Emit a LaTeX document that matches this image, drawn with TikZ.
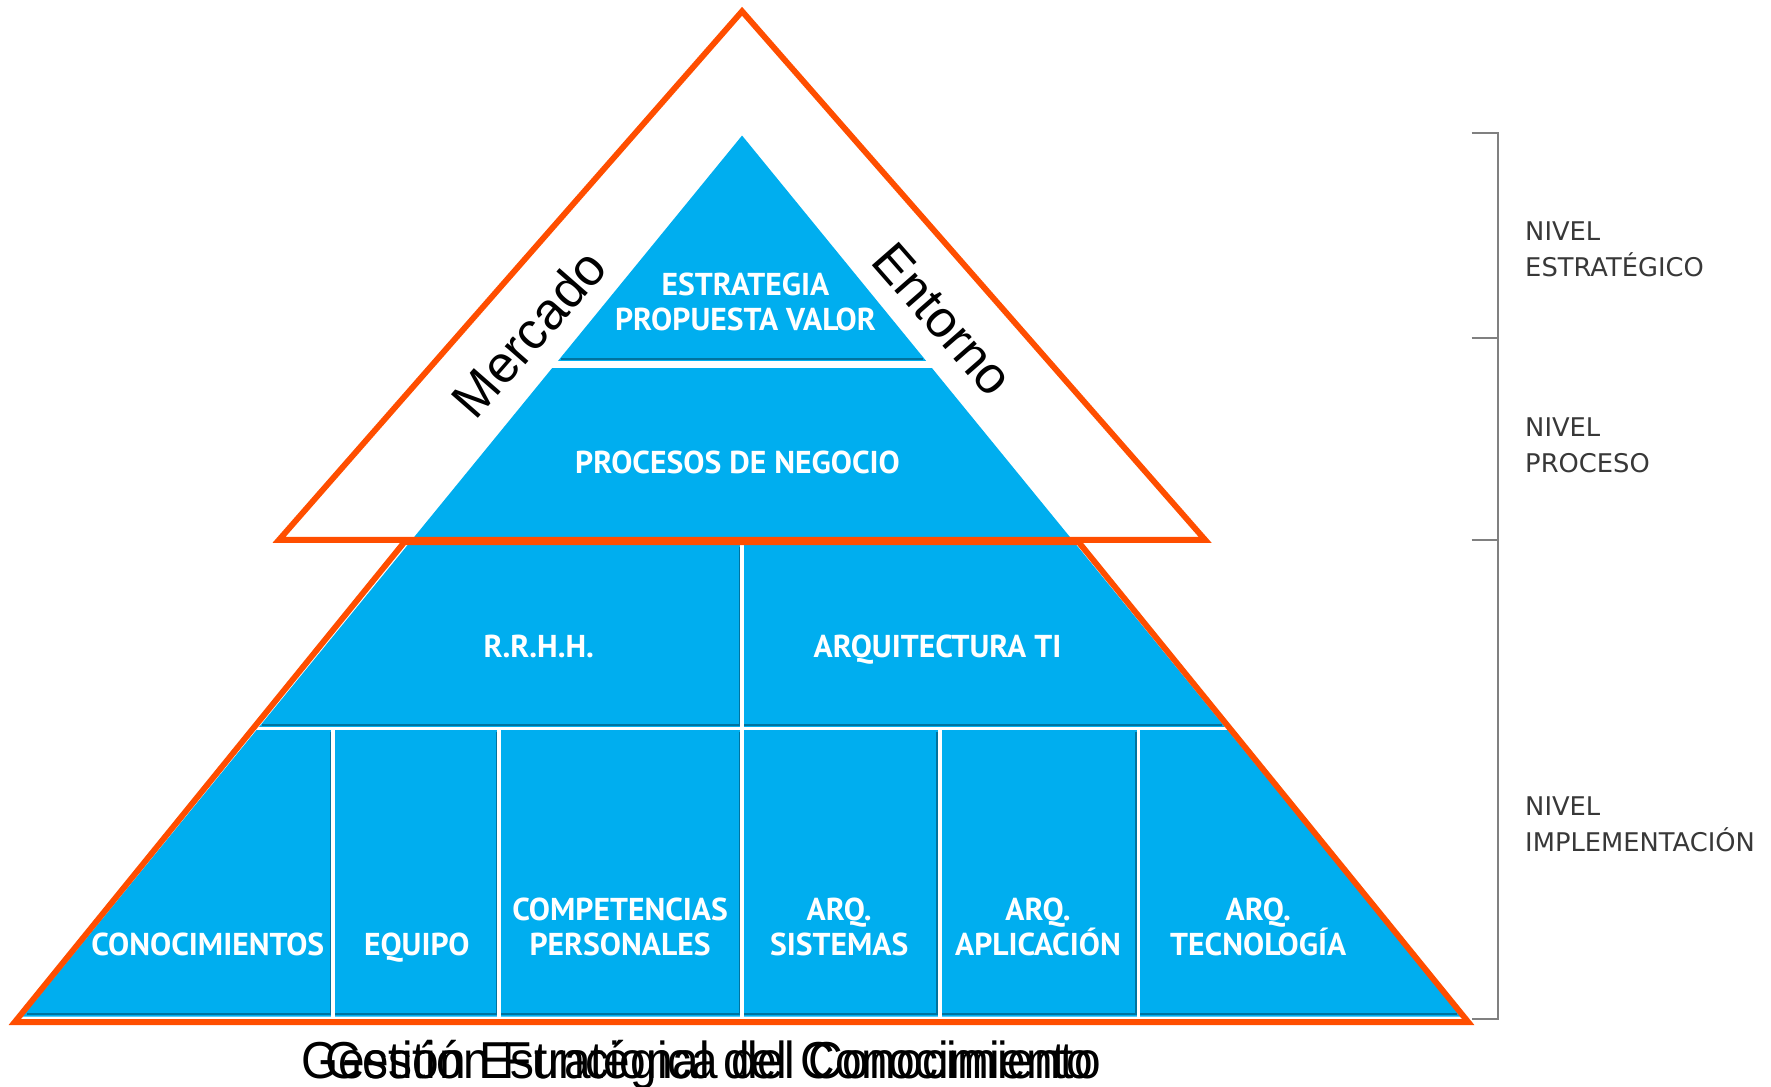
\documentclass[tikz,border=0pt]{standalone}
\usepackage{fontspec}
\setmainfont{Liberation Sans}
\newfontfamily\lblfont{PT Sans}
\newfontfamily\nivfont{DejaVu Sans}
\definecolor{pyr}{HTML}{00AEEF}
\definecolor{pyrdark}{HTML}{00739F}
\definecolor{org}{HTML}{FF4E00}
\definecolor{brk}{HTML}{808080}
\newcommand\narr[1]{\scalebox{0.92}[1]{#1}}
\begin{document}
\begin{tikzpicture}[x=0.5pt,y=-0.5pt,
  lbl/.style={font=\lblfont\bfseries\fontsize{14}{15.5}\selectfont, text=white, align=center, inner sep=0},
  lblone/.style={lbl, text depth=0pt},
  niv/.style={font=\nivfont\fontsize{11.4}{16}\selectfont, text=black!78, align=left, anchor=west, inner sep=0},
  side/.style={font=\fontsize{23}{23}\selectfont, inner sep=0},
  bottomtxt/.style={font=\fontsize{23}{23}\selectfont, inner sep=0, anchor=base east},
  frame/.style={draw=org, line width=2.6pt, line join=miter},
  gapline/.style={draw=white, line width=1.6pt},
  shadowline/.style={draw=pyrdark, line width=1pt},
  bracket/.style={draw=brk, line width=0.8pt}]
\useasboundingbox (0,0) rectangle (1568,962);

% blue pyramid body
\fill[pyr] (657,120) -- (1294,900) -- (20,900) -- cycle;

% shadows under sections
\draw[shadowline] (497,318) -- (817,318);
\draw[shadowline] (232,642) -- (1082,642);
\draw[shadowline] (24,898) -- (1290,898);
\foreach \xx in {293,440,655,830,1006} {
  \draw[shadowline] (\xx,648) -- (\xx,898);
}
\draw[shadowline] (655,484) -- (655,642);

% white gaps
\draw[draw=white, line width=3pt] (470,323) -- (850,323);
\draw[gapline] (215,645) -- (1100,645);
\draw[gapline] (657,480) -- (657,900);
\foreach \xx in {295,442,832,1008} {
  \draw[gapline] (\xx,645) -- (\xx,900);
}

% orange frames
\draw[frame] (657,10) -- (1067,478) -- (247,478) -- cycle;
\draw[frame] (358,480) -- (955,480) -- (1300,905) -- (13,905) -- cycle;

% right bracket
\coordinate (b0) at (1326,118);
\coordinate (b1) at (1326,299);
\coordinate (b2) at (1326,478);
\coordinate (b3) at (1326,902);
\draw[bracket] (1303,118) -- (b0) -- (b3) -- (1303,902);
\draw[bracket] (1303,299) -- (b1);
\draw[bracket] (1303,478) -- (b2);

% pyramid labels
\node[lbl] (estr) at (660,267) {ESTRATEGIA\\PROPUESTA VALOR};
\node[lblone] (proc) at (653,409) {PROCESOS DE NEGOCIO};
\node[lblone] (rrhh) at (477,572) {R.R.H.H.};
\node[lblone] (arqti) at (830,572) {ARQUITECTURA TI};
\node[lblone] (cono) at (184,836) {CONOCIMIENTOS};
\node[lblone] (equipo) at (369,836) {EQUIPO};
\node[lbl] (comp) at (549,820.5) {COMPETENCIAS\\PERSONALES};
\node[lbl] (arqsis) at (743,820.5) {ARQ.\\SISTEMAS};
\node[lbl] (arqapl) at (919,820.5) {ARQ.\\APLICACIÓN};
\node[lbl] (arqtec) at (1114,820.5) {ARQ.\\TECNOLOGÍA};

% level labels
\node[niv] (nestr) at (1350,221) {NIVEL\\ESTRATÉGICO};
\node[niv] (nproc) at (1350,394.5) {NIVEL\\PROCESO};
\node[niv] (nimpl) at (1350,729.5) {NIVEL\\IMPLEMENTACIÓN};

% side labels
\node[side, rotate=48.8] (merc) at (468,295) {Mercado};
\node[side, rotate=-48.8] (ent) at (835,283) {Entorno};

% bottom titles (overlapping)
\node[bottomtxt] (gest1) at (975,955) {\narr{Gestión Estratégica del Conocimiento}};
\node[bottomtxt] (gest2) at (968,955) {\narr{Gestión Funcional del Conocimiento}};
\end{tikzpicture}
\end{document}
